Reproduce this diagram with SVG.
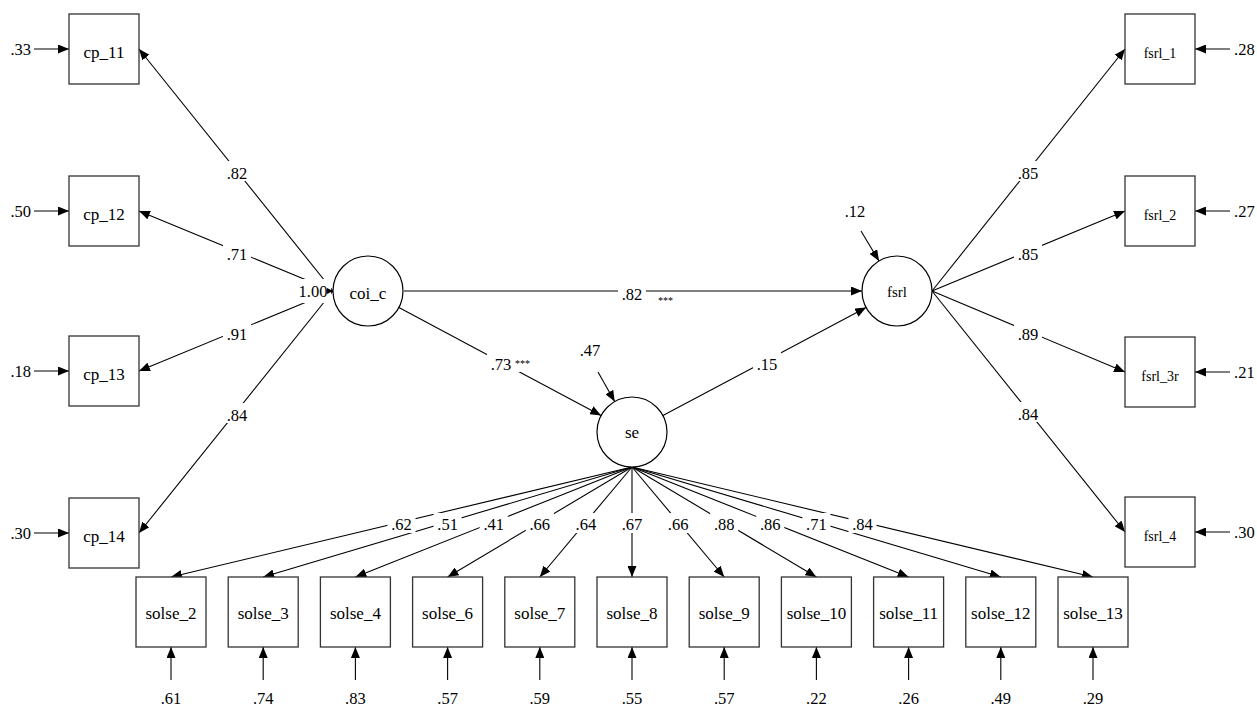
<svg xmlns="http://www.w3.org/2000/svg" width="1257" height="706" viewBox="0 0 1257 706" font-family="'Liberation Serif', 'Times New Roman', 'DejaVu Serif', serif">
<style>
text{font-family:'Liberation Serif','Times New Roman','DejaVu Serif',serif;fill:#000}
.lbl{font-size:16.5px;text-anchor:middle}
.el{font-size:16.5px}
.nl{font-size:17px;text-anchor:middle}
.sl{font-size:14px;text-anchor:middle}
.st{font-size:10px}
.box{fill:#fff;stroke:#333;stroke-width:1.3}
.cir{fill:#fff;stroke:#000;stroke-width:1.2}
.ln{stroke:#000;stroke-width:1.1;fill:none;marker-end:url(#ah)}
.bg{fill:#fff}
</style>
<defs>
<marker id="ah" markerUnits="userSpaceOnUse" markerWidth="11" markerHeight="9" viewBox="0 0 11 9" refX="11" refY="4.5" orient="auto">
<path d="M0,0 L11,4.5 L0,9 z" fill="#000"/>
</marker>
<marker id="ahs" markerUnits="userSpaceOnUse" markerWidth="6" markerHeight="6" viewBox="0 0 6 6" refX="6" refY="3" orient="auto">
<path d="M0,0 L6,3 L0,6 z" fill="#000"/>
</marker>
</defs>
<rect width="1257" height="706" fill="#fff"/>

<g id="connectors">
<line class="ln" x1="333" y1="291" x2="139" y2="49"/>
<line class="ln" x1="333" y1="291" x2="139" y2="211"/>
<line class="ln" x1="333" y1="291" x2="139" y2="371"/>
<line class="ln" x1="333" y1="291" x2="139" y2="533"/>
<line class="ln" x1="932" y1="291" x2="1125" y2="49"/>
<line class="ln" x1="932" y1="291" x2="1125" y2="211"/>
<line class="ln" x1="932" y1="291" x2="1125" y2="372"/>
<line class="ln" x1="932" y1="291" x2="1125" y2="532"/>
<line class="ln" x1="632" y1="467" x2="171" y2="577"/>
<line class="ln" x1="632" y1="467" x2="263.2" y2="577"/>
<line class="ln" x1="632" y1="467" x2="355.4" y2="577"/>
<line class="ln" x1="632" y1="467" x2="447.6" y2="577"/>
<line class="ln" x1="632" y1="467" x2="539.8" y2="577"/>
<line class="ln" x1="632" y1="467" x2="632" y2="577"/>
<line class="ln" x1="632" y1="467" x2="724.2" y2="577"/>
<line class="ln" x1="632" y1="467" x2="816.4" y2="577"/>
<line class="ln" x1="632" y1="467" x2="908.6" y2="577"/>
<line class="ln" x1="632" y1="467" x2="1000.8" y2="577"/>
<line class="ln" x1="632" y1="467" x2="1093" y2="577"/>
<line class="ln" x1="404" y1="291" x2="862" y2="291"/>
<line class="ln" x1="398.9" y1="307.5" x2="601.1" y2="415.5"/>
<line class="ln" x1="662.9" y1="415.5" x2="866.1" y2="307.5"/>
<line class="ln" x1="34" y1="49" x2="69" y2="49"/>
<line class="ln" x1="34" y1="211" x2="69" y2="211"/>
<line class="ln" x1="34" y1="371" x2="69" y2="371"/>
<line class="ln" x1="34" y1="533" x2="69" y2="533"/>
<line class="ln" x1="1230" y1="49" x2="1195" y2="49"/>
<line class="ln" x1="1230" y1="211" x2="1195" y2="211"/>
<line class="ln" x1="1230" y1="372" x2="1195" y2="372"/>
<line class="ln" x1="1230" y1="532" x2="1195" y2="532"/>
<line class="ln" x1="171" y1="680" x2="171" y2="647"/>
<line class="ln" x1="263.2" y1="680" x2="263.2" y2="647"/>
<line class="ln" x1="355.4" y1="680" x2="355.4" y2="647"/>
<line class="ln" x1="447.6" y1="680" x2="447.6" y2="647"/>
<line class="ln" x1="539.8" y1="680" x2="539.8" y2="647"/>
<line class="ln" x1="632" y1="680" x2="632" y2="647"/>
<line class="ln" x1="724.2" y1="680" x2="724.2" y2="647"/>
<line class="ln" x1="816.4" y1="680" x2="816.4" y2="647"/>
<line class="ln" x1="908.6" y1="680" x2="908.6" y2="647"/>
<line class="ln" x1="1000.8" y1="680" x2="1000.8" y2="647"/>
<line class="ln" x1="1093" y1="680" x2="1093" y2="647"/>
<line class="ln" x1="861" y1="231" x2="879" y2="261"/>
<line class="ln" x1="598" y1="372" x2="614.7" y2="401.6"/>
</g>

<g id="path-labels">
<rect class="bg" x="223" y="161" width="28" height="20"/><text class="lbl" x="237" y="179">.82</text>
<rect class="bg" x="223" y="242" width="28" height="20"/><text class="lbl" x="237" y="260">.71</text>
<rect class="bg" x="223" y="322" width="28" height="20"/><text class="lbl" x="237" y="340">.91</text>
<rect class="bg" x="223" y="403" width="28" height="20"/><text class="lbl" x="237" y="421">.84</text>
<rect class="bg" x="1014" y="161" width="28" height="20"/><text class="lbl" x="1028" y="179">.85</text>
<rect class="bg" x="1014" y="242" width="28" height="20"/><text class="lbl" x="1028" y="260">.85</text>
<rect class="bg" x="1014" y="322" width="28" height="20"/><text class="lbl" x="1028" y="340">.89</text>
<rect class="bg" x="1014" y="402" width="28" height="20"/><text class="lbl" x="1028" y="420">.84</text>
<rect class="bg" x="387.5" y="513" width="28" height="20"/><text class="lbl" x="401.5" y="530">.62</text>
<rect class="bg" x="433.6" y="513" width="28" height="20"/><text class="lbl" x="447.6" y="530">.51</text>
<rect class="bg" x="479.7" y="513" width="28" height="20"/><text class="lbl" x="493.7" y="530">.41</text>
<rect class="bg" x="525.8" y="513" width="28" height="20"/><text class="lbl" x="539.8" y="530">.66</text>
<rect class="bg" x="571.9" y="513" width="28" height="20"/><text class="lbl" x="585.9" y="530">.64</text>
<rect class="bg" x="618" y="513" width="28" height="20"/><text class="lbl" x="632" y="530">.67</text>
<rect class="bg" x="664.1" y="513" width="28" height="20"/><text class="lbl" x="678.1" y="530">.66</text>
<rect class="bg" x="710.2" y="513" width="28" height="20"/><text class="lbl" x="724.2" y="530">.88</text>
<rect class="bg" x="756.3" y="513" width="28" height="20"/><text class="lbl" x="770.3" y="530">.86</text>
<rect class="bg" x="802.4" y="513" width="28" height="20"/><text class="lbl" x="816.4" y="530">.71</text>
<rect class="bg" x="848.5" y="513" width="28" height="20"/><text class="lbl" x="862.5" y="530">.84</text>
<rect class="bg" x="618" y="282" width="28" height="20"/><text class="lbl" x="632" y="300">.82</text>
<text class="st" x="658" y="304">***</text>
<rect class="bg" x="487" y="352" width="42" height="20"/><text class="lbl" x="501" y="370">.73</text>
<text class="st" x="515" y="367">***</text>
<rect class="bg" x="753" y="352" width="28" height="20"/><text class="lbl" x="767" y="370">.15</text>
<rect class="bg" x="297" y="279" width="34" height="24"/><text class="lbl" x="313" y="297">1.00</text>
<line x1="328" y1="291" x2="333" y2="291" stroke="#000" stroke-width="1" marker-end="url(#ahs)"/>
</g>

<g id="error-labels">
<text class="el" x="31" y="55" text-anchor="end">.33</text>
<text class="el" x="31" y="217" text-anchor="end">.50</text>
<text class="el" x="31" y="377" text-anchor="end">.18</text>
<text class="el" x="31" y="539" text-anchor="end">.30</text>
<text class="el" x="1234" y="55">.28</text>
<text class="el" x="1234" y="217">.27</text>
<text class="el" x="1234" y="378">.21</text>
<text class="el" x="1234" y="538">.30</text>
<text class="lbl" x="171" y="704">.61</text>
<text class="lbl" x="263.2" y="704">.74</text>
<text class="lbl" x="355.4" y="704">.83</text>
<text class="lbl" x="447.6" y="704">.57</text>
<text class="lbl" x="539.8" y="704">.59</text>
<text class="lbl" x="632" y="704">.55</text>
<text class="lbl" x="724.2" y="704">.57</text>
<text class="lbl" x="816.4" y="704">.22</text>
<text class="lbl" x="908.6" y="704">.26</text>
<text class="lbl" x="1000.8" y="704">.49</text>
<text class="lbl" x="1093" y="704">.29</text>
<text class="lbl" x="855" y="217">.12</text>
<text class="lbl" x="590" y="356">.47</text>
</g>

<g id="node-cp_11"><rect class="box" x="69" y="14" width="70" height="70"/><text class="nl" x="104" y="58">cp_11</text></g>
<g id="node-cp_12"><rect class="box" x="69" y="176" width="70" height="70"/><text class="nl" x="104" y="220">cp_12</text></g>
<g id="node-cp_13"><rect class="box" x="69" y="336" width="70" height="70"/><text class="nl" x="104" y="380">cp_13</text></g>
<g id="node-cp_14"><rect class="box" x="69" y="498" width="70" height="70"/><text class="nl" x="104" y="542">cp_14</text></g>

<g id="node-fsrl_1"><rect class="box" x="1125" y="14" width="70" height="70"/><text class="sl" x="1160" y="58">fsrl_1</text></g>
<g id="node-fsrl_2"><rect class="box" x="1125" y="176" width="70" height="70"/><text class="sl" x="1160" y="220">fsrl_2</text></g>
<g id="node-fsrl_3r"><rect class="box" x="1125" y="337" width="70" height="70"/><text class="sl" x="1160" y="381">fsrl_3r</text></g>
<g id="node-fsrl_4"><rect class="box" x="1125" y="497" width="70" height="70"/><text class="sl" x="1160" y="541">fsrl_4</text></g>

<g id="node-solse_2"><rect class="box" x="136" y="577" width="70" height="70"/><text class="nl" x="171" y="619">solse_2</text></g>
<g id="node-solse_3"><rect class="box" x="228.2" y="577" width="70" height="70"/><text class="nl" x="263.2" y="619">solse_3</text></g>
<g id="node-solse_4"><rect class="box" x="320.4" y="577" width="70" height="70"/><text class="nl" x="355.4" y="619">solse_4</text></g>
<g id="node-solse_6"><rect class="box" x="412.6" y="577" width="70" height="70"/><text class="nl" x="447.6" y="619">solse_6</text></g>
<g id="node-solse_7"><rect class="box" x="504.8" y="577" width="70" height="70"/><text class="nl" x="539.8" y="619">solse_7</text></g>
<g id="node-solse_8"><rect class="box" x="597" y="577" width="70" height="70"/><text class="nl" x="632" y="619">solse_8</text></g>
<g id="node-solse_9"><rect class="box" x="689.2" y="577" width="70" height="70"/><text class="nl" x="724.2" y="619">solse_9</text></g>
<g id="node-solse_10"><rect class="box" x="781.4" y="577" width="70" height="70"/><text class="nl" x="816.4" y="619">solse_10</text></g>
<g id="node-solse_11"><rect class="box" x="873.6" y="577" width="70" height="70"/><text class="nl" x="908.6" y="619">solse_11</text></g>
<g id="node-solse_12"><rect class="box" x="965.8" y="577" width="70" height="70"/><text class="nl" x="1000.8" y="619">solse_12</text></g>
<g id="node-solse_13"><rect class="box" x="1058" y="577" width="70" height="70"/><text class="nl" x="1093" y="619">solse_13</text></g>

<g id="node-coi_c"><circle class="cir" cx="368" cy="291" r="35"/><text class="nl" x="368" y="299">coi_c</text></g>
<g id="node-se"><circle class="cir" cx="632" cy="432" r="35"/><text class="nl" x="632" y="438">se</text></g>
<g id="node-fsrl"><circle class="cir" cx="897" cy="291" r="35"/><text class="lbl" x="897" y="297" style="font-size:15px">fsrl</text></g>
</svg>
